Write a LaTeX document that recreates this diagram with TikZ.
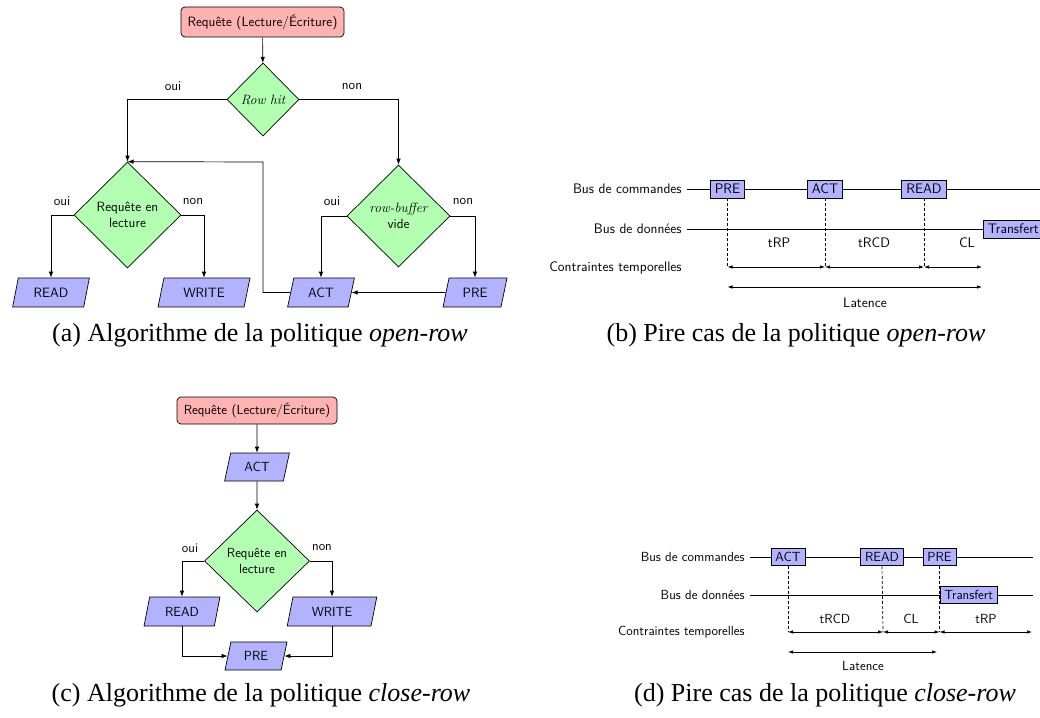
\documentclass[tikz,border=0pt]{standalone}
\usepackage{fontspec}
\newfontfamily\capfont{Liberation Serif}
\usetikzlibrary{shapes.geometric,arrows.meta}
\tikzset{
 startbox/.style={draw, fill=red!30, rounded corners=4pt, minimum width=163, minimum height=30, inner sep=2pt},
 dec/.style={draw, fill=green!30, diamond, inner sep=0pt, align=center},
 para/.style={draw, fill=blue!30, trapezium, trapezium left angle=76, trapezium right angle=104, trapezium stretches=true, minimum height=29, inner sep=2pt},
 arr/.style={-{Latex[length=6pt,width=4.5pt]}},
 lab/.style={inner sep=0pt},
 tbox/.style={draw, fill=blue!30, minimum height=18, inner xsep=4.5pt, inner ysep=0pt},
 tl/.style={inner sep=0pt},
 dashln/.style={dash pattern=on 3pt off 2pt},
 dim/.style={{Latex[length=5pt,width=3.5pt]}-{Latex[length=5pt,width=3.5pt]}},
 captxt/.style={font=\capfont\fontsize{26}{30}\selectfont, inner sep=0pt, anchor=base},
}
\begin{document}
\begin{tikzpicture}[x=1pt,y=-1pt,line width=0.7pt]
\clip (0,0) rectangle (1040,717);
% ---------------- (a) ----------------
\begin{scope}[font=\sffamily\fontsize{13.5}{16}\selectfont]
\node[startbox] (req) at (262.5,22) {Requête (Lecture/Écriture)};
\node[dec, minimum width=72, minimum height=73] (hit) at (263,99.5) {\rmfamily\itshape Row hit};
\node[dec, minimum width=107, minimum height=106] (lec) at (127.5,215) {Requête en\\lecture};
\node[dec, minimum width=103, minimum height=102] (vide) at (398.5,216) {{\rmfamily\itshape row-buffer}\\vide};
\node[para, minimum width=77] (read) at (51,292.5) {READ};
\node[para, minimum width=92] (write) at (204,292.5) {WRITE};
\node[para, minimum width=67] (act) at (321,292.5) {ACT};
\node[para, minimum width=64] (pre) at (475,292.5) {PRE};
\node[lab] (o1) at (173,86) {oui};
\node[lab] (n1) at (352,86) {non};
\node[lab] (o2) at (62,201) {oui};
\node[lab] (n2) at (193,201) {non};
\node[lab] (o3) at (332,201) {oui};
\node[lab] (n3) at (463,201) {non};
\coordinate (bend) at (263,162);
\draw[arr] (req) -- (hit);
\draw[arr] (hit.west) -| (lec.north);
\draw[arr] (hit.east) -| (vide.north);
\draw[arr] (lec.west) -| (read.north);
\draw[arr] (lec.east) -| (write.north);
\draw[arr] (vide.west) -| (act.north);
\draw[arr] (vide.east) -| (pre.north);
\draw[arr] (pre.west) -- (act.east);
\draw[arr] (act.west) -| (bend) -- (lec.north);
\end{scope}
% ---------------- (b) ----------------
\begin{scope}[font=\sffamily\fontsize{13.8}{16}\selectfont]
\node[tl, anchor=east] (bcb) at (682,189) {Bus de commandes};
\node[tl, anchor=east] (bdb) at (682,229) {Bus de données};
\node[tl, anchor=east] (ctb) at (682,268) {Contraintes temporelles};
\coordinate (bcbE) at (1040,189);
\coordinate (bdbE) at (1040,229);
\draw ([xshift=5]bcb.east) -- (bcbE);
\draw ([xshift=5]bdb.east) -- (bdbE);
\node[tbox] (bpre) at (727.5,189) {PRE};
\node[tbox] (bact) at (825,189) {ACT};
\node[tbox] (bread) at (924,189) {READ};
\node[tbox, anchor=west] (btr) at (983,229) {Transfert};
\coordinate (b1) at (727.5,267);
\coordinate (b2) at (825,267);
\coordinate (b3) at (924,267);
\coordinate (b4) at (982,267);
\coordinate (bl1) at (727.5,287);
\coordinate (bl2) at (982,287);
\draw[dashln] (bpre.south) -- (b1);
\draw[dashln] (bact.south) -- (b2);
\draw[dashln] (bread.south) -- (b3);
\draw[dim] (b1) -- (b2);
\draw[dim] (b2) -- (b3);
\draw[dim] (b3) -- (b4);
\draw[dim] (bl1) -- (bl2);
\node[tl] (btrp) at (779,243) {tRP};
\node[tl] (btrcd) at (874,243) {tRCD};
\node[tl] (bcl) at (967,243) {CL};
\node[tl] (blat) at (865,303) {Latence};
\end{scope}
% ---------------- (c) ----------------
\begin{scope}[font=\sffamily\fontsize{13.2}{15.6}\selectfont]
\node[startbox, minimum width=160, minimum height=27] (req2) at (257,410.5) {Requête (Lecture/Écriture)};
\node[para, minimum width=65, minimum height=28] (act2) at (257,467) {ACT};
\node[dec, minimum width=105, minimum height=102] (lec2) at (257,561) {Requête en\\lecture};
\node[para, minimum width=76] (read2) at (182,611.5) {READ};
\node[para, minimum width=90] (write2) at (332,611.5) {WRITE};
\node[para, minimum width=62, minimum height=28] (pre2) at (256,656) {PRE};
\node[lab] (o4) at (190,548) {oui};
\node[lab] (n4) at (322,548) {non};
\draw[arr] (req2) -- (act2);
\draw[arr] (act2) -- (lec2);
\draw[arr] (lec2.west) -| (read2.north);
\draw[arr] (lec2.east) -| (write2.north);
\draw[arr] (read2.south) |- (pre2.west);
\draw[arr] (write2.south) |- (pre2.east);
\end{scope}
% ---------------- (d) ----------------
\begin{scope}[font=\sffamily\fontsize{13.2}{15.6}\selectfont]
\node[tl, anchor=east] (dcb) at (745,557) {Bus de commandes};
\node[tl, anchor=east] (ddb) at (745,595) {Bus de données};
\node[tl, anchor=east] (dct) at (745,632) {Contraintes temporelles};
\coordinate (dcbE) at (1033,557);
\coordinate (ddbE) at (1033,595);
\draw ([xshift=5]dcb.east) -- (dcbE);
\draw ([xshift=5]ddb.east) -- (ddbE);
\coordinate (d1) at (788,632);
\coordinate (d2) at (883,632);
\coordinate (d3) at (939.5,632);
\coordinate (d4) at (1032,632);
\coordinate (dl1) at (788,652);
\coordinate (dl2) at (937,652);
\node[tbox, minimum height=17] (dact) at (788,557) {ACT};
\node[tbox, minimum height=17] (dread) at (882,557) {READ};
\node[tbox, minimum height=17] (dpre) at (939.5,557) {PRE};
\draw[dashln] (dact.south) -- (d1);
\draw[dashln] (dread.south) -- (d2);
\draw[dashln] (dpre.south) -- (d3);
\node[tbox, minimum height=17, anchor=west] (dtr) at (939.5,595) {Transfert};
\draw[dim] (d1) -- (d2);
\draw[dim] (d2) -- (d3);
\draw[dim] (d3) -- (d4);
\draw[dim] (dl1) -- (dl2);
\node[tl] (dtrcd) at (835,619) {tRCD};
\node[tl] (dcl) at (911,619) {CL};
\node[tl] (dtrp) at (986,619) {tRP};
\node[tl] (dlat) at (863,666) {Latence};
\end{scope}
% ---------------- captions ----------------
\node[captxt] (ca) at (260,341) {(a) Algorithme de la politique \textit{open-row}};
\node[captxt] (cb) at (796,341) {(b) Pire cas de la politique \textit{open-row}};
\node[captxt] (cc) at (261,701) {(c) Algorithme de la politique \textit{close-row}};
\node[captxt] (cd) at (825,701) {(d) Pire cas de la politique \textit{close-row}};
\end{tikzpicture}
\end{document}
